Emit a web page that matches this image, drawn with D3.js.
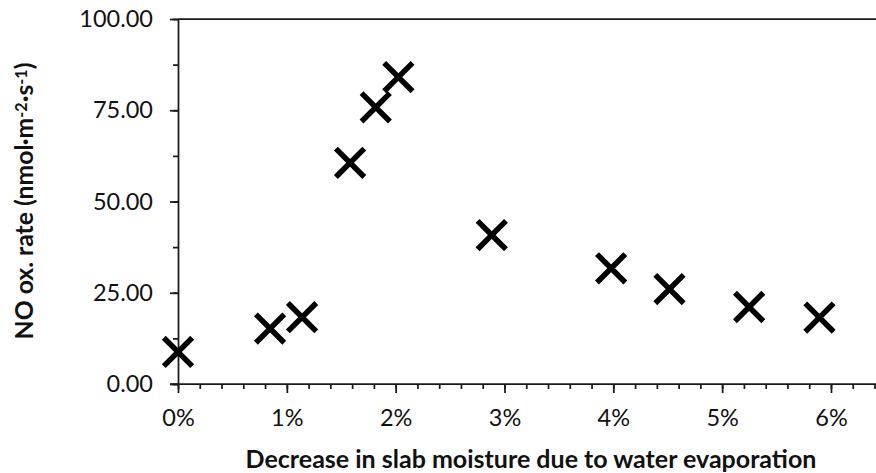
<!DOCTYPE html>
<html>
<head>
<meta charset="utf-8">
<script src="https://cdn.jsdelivr.net/npm/d3@7"></script>
<style>
  body { margin: 0; background: #fff; }
  svg { display: block; }
</style>
</head>
<body>
<div class="canvas"></div>
<script>
// data
const moistureLoss = [0.0, 0.846, 1.14, 1.581, 1.817, 2.025, 2.883, 3.98, 4.516, 5.248, 5.894];
const noRate = [8.8, 15.2, 18.3, 60.6, 75.8, 84.1, 40.8, 31.7, 26.0, 21.1, 18.2];
const xTicks = [0, 1, 2, 3, 4, 5, 6];
const yTicks = [0, 25, 50, 75, 100];

const width = 876;
const height = 473;
const margin = { top: 19, right: 0, bottom: 89, left: 178 };
const font = 'Lato, "Open Sans", sans-serif';

const svg = d3
  .select('.canvas')
  .append('svg')
  .attr('width', width)
  .attr('height', height);

//scales
const x = d3.scaleLinear().domain([0, 6.5]).range([margin.left, margin.left + 6.5 * 108.83]);
const y = d3.scaleLinear().domain([0, 100]).range([height - margin.bottom, margin.top]);

//top frame line
svg
  .append('line')
  .attr('x1', x(0))
  .attr('x2', width)
  .attr('y1', y(100))
  .attr('y2', y(100))
  .attr('stroke', '#1a1a1a')
  .attr('stroke-width', 1.75);

//minor ticks
const xMinor = d3.range(0, 6.5, 0.2);
const yMinor = d3.range(0, 100.1, 12.5);

svg
  .append('g')
  .attr('transform', `translate(0, ${y(0)})`)
  .call(d3.axisBottom(x).tickValues(xMinor).tickSize(5).tickSizeOuter(0).tickFormat(''))
  .call((g) => g.select('.domain').remove());

svg
  .append('g')
  .attr('transform', `translate(${x(0)}, 0)`)
  .call(d3.axisLeft(y).tickValues(yMinor).tickSize(5).tickSizeOuter(0).tickFormat(''))
  .call((g) => g.select('.domain').remove());

//major axes
const xAxis = d3
  .axisBottom(x)
  .tickValues(xTicks)
  .tickSize(9)
  .tickSizeOuter(0)
  .tickPadding(16)
  .tickFormat((d) => d + '%');

const yAxis = d3
  .axisLeft(y)
  .tickValues(yTicks)
  .tickSize(8)
  .tickSizeOuter(0)
  .tickPadding(17)
  .tickFormat(d3.format('.2f'));

const xAxisGroup = svg
  .append('g')
  .attr('transform', `translate(0, ${y(0)})`)
  .call(xAxis);

const yAxisGroup = svg
  .append('g')
  .attr('transform', `translate(${x(0)}, 0)`)
  .call(yAxis);

//x axis line runs to the right edge
xAxisGroup.select('.domain').attr('d', `M${x(0) - 8},0H${width}`);

svg
  .selectAll('.tick line, .domain')
  .attr('stroke', '#1a1a1a')
  .attr('stroke-width', 1.75);

svg
  .selectAll('.tick text')
  .attr('font-family', font)
  .attr('font-size', 23.5)
  .attr('fill', '#111');

//markers
const marker = d3.symbol().type(d3.symbolX).size(528);

svg
  .append('g')
  .selectAll('path')
  .data(moistureLoss.map((m, i) => ({ m, v: noRate[i] })))
  .enter()
  .append('path')
  .attr('d', marker)
  .attr('transform', (d) => `translate(${x(d.m)}, ${y(d.v)})`)
  .attr('fill', 'none')
  .attr('stroke', '#000')
  .attr('stroke-width', 5.5);

//fit a label to a target width
const fit = (sel, target) => {
  const len = sel.node().getComputedTextLength();
  const size = parseFloat(sel.attr('font-size'));
  sel.attr('font-size', (size * target) / len);
};

//axis titles
const xTitle = svg
  .append('text')
  .attr('x', 531)
  .attr('y', 468)
  .attr('text-anchor', 'middle')
  .attr('font-family', font)
  .attr('font-weight', 'bold')
  .attr('font-size', 22)
  .attr('fill', '#111')
  .text('Decrease in slab moisture due to water evaporation');
fit(xTitle, 571);

const yTitle = svg
  .append('text')
  .attr('transform', 'translate(33, 201) rotate(-90)')
  .attr('text-anchor', 'middle')
  .attr('font-family', font)
  .attr('font-weight', 'bold')
  .attr('font-size', 22)
  .attr('fill', '#111');

yTitle.append('tspan').text('NO ox. rate (nmol·m');
yTitle.append('tspan').attr('dy', '-0.4em').attr('font-size', '65%').text('-2');
yTitle.append('tspan').attr('dy', '0.26em').text('·s');
yTitle.append('tspan').attr('dy', '-0.4em').attr('font-size', '65%').text('-1');
yTitle.append('tspan').attr('dy', '0.26em').text(')');
fit(yTitle, 277);
</script>
</body>
</html>
